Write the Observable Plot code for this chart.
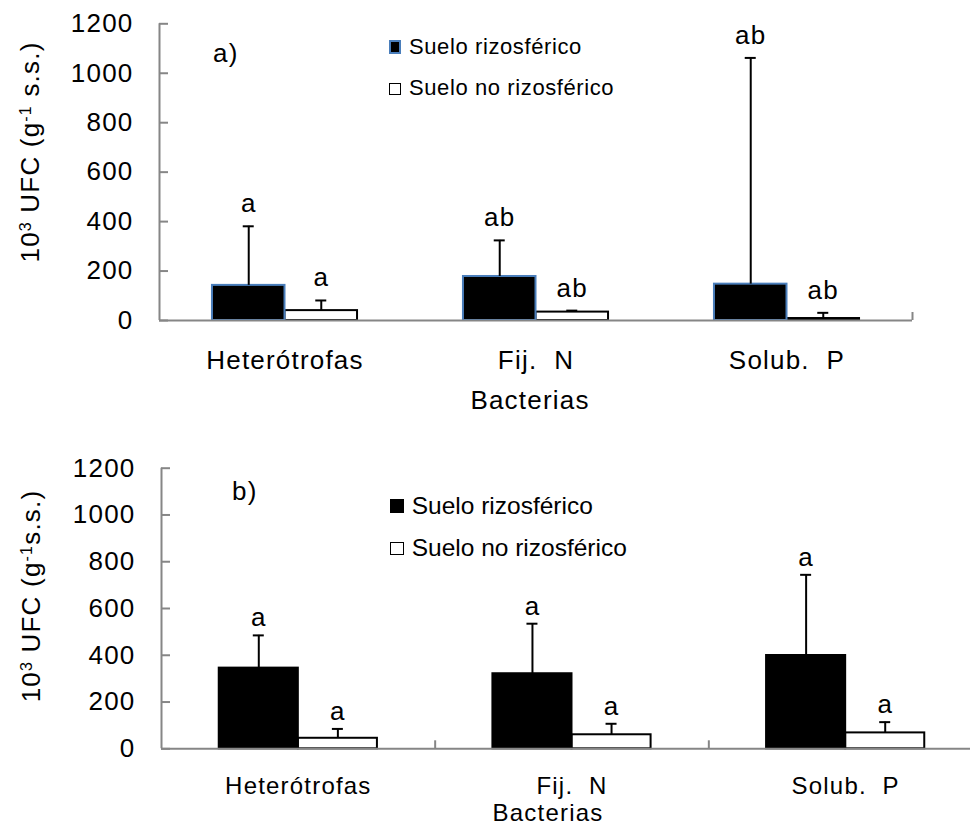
<!DOCTYPE html>
<html>
<head>
<meta charset="utf-8">
<script src="https://cdn.jsdelivr.net/npm/d3@7"></script>
<script src="https://cdn.jsdelivr.net/npm/@observablehq/plot@0.6"></script>
<style>
  body { margin: 0; background: #fff; font-family: "Liberation Sans", Arial, sans-serif; }
  #wrap { position: relative; width: 970px; height: 827px; overflow: hidden; }
  #wrap svg { display: block; }
  .leg { position: absolute; white-space: pre; line-height: 1; color: #000; }
  .sw { position: absolute; box-sizing: border-box; }
</style>
</head>
<body>
<div id="wrap"></div>
<script>
// Bacterial groups and soil types
const categories = ["Heterótrofas", "Fij.\u00a0 N", "Solub.\u00a0 P"];
const series = ["Suelo rizosférico", "Suelo no rizosférico"];
const yTicks = [0, 200, 400, 600, 800, 1000, 1200];

// Panel a) — means and standard deviations (10^3 UFC g-1 s.s.)
const aRizo = [142, 178, 147];
const aRizoErr = [239, 146, 915];
const aNoRizo = [40, 34, 8];
const aNoRizoErr = [41, 6, 23];
const aRizoLetters = ["a", "ab", "ab"];
const aNoRizoLetters = ["a", "ab", "ab"];

// Panel b)
const bRizo = [345, 321, 399];
const bRizoErr = [140, 214, 345];
const bNoRizo = [45, 60, 68];
const bNoRizoErr = [40, 47, 46];
const bRizoLetters = ["a", "a", "a"];
const bNoRizoLetters = ["a", "a", "a"];

const FONT = "'Liberation Sans', Arial, sans-serif";
const AXIS = "#868686";
const barW = 0.289; // bar width as a fraction of a category slot

function rows(means, errs, letters, s) {
  return categories.map((c, i) => ({cat: c, i, series: s, value: means[i], top: means[i] + errs[i], letter: letters[i]}));
}
const left = d => d.series === series[0] ? d.i + 0.5 - barW : d.i + 0.5;
const right = d => left(d) + barW;
const mid = d => left(d) + barW / 2;

function panel(rizoRows, noRows, cfg) {
  const frameW = cfg.frameRight - cfg.marginLeft;
  const frameH = cfg.height - cfg.marginTop - cfg.marginBottom;
  const all = [...rizoRows, ...noRows];
  return Plot.plot({
    width: 970,
    height: cfg.height,
    marginLeft: cfg.marginLeft,
    marginRight: cfg.marginRight,
    marginTop: cfg.marginTop,
    marginBottom: cfg.marginBottom,
    style: {fontFamily: FONT, fontSize: "26px", letterSpacing: "1.2px", color: "#000", background: "#fff", overflow: "visible"},
    x: {domain: [0, 3], range: cfg.xRange},
    y: {domain: [0, 1200], ticks: yTicks, tickFormat: d => String(d), tickSize: 0, tickPadding: 26, label: null},
    marks: [
      // bars: open bars first so the filled bars' outline stays on top
      Plot.rect(noRows, {x1: left, x2: right, y1: () => 0, y2: "value", fill: "#fff", stroke: "#000", strokeWidth: 2}),
      Plot.rect(rizoRows, {x1: left, x2: right, y1: () => 0, y2: "value", fill: "#000", stroke: cfg.barStroke, strokeWidth: 2}),
      // axes
      Plot.axisX({ticks: [0.5, 1.5, 2.5], tickFormat: t => categories[Math.floor(t)], tickSize: 0, tickPadding: cfg.xPad, fontSize: cfg.catSize, label: null}),
      Plot.ruleY([0], {stroke: AXIS, strokeWidth: 2}),
      Plot.ruleX([0], {stroke: AXIS, strokeWidth: 2}),
      Plot.tickY(yTicks, {y: d => d, stroke: AXIS, strokeWidth: 2, insetRight: frameW - 9}),
      Plot.tickX(cfg.xTicks, {x: d => d, stroke: AXIS, strokeWidth: 2, insetTop: frameH - 8}),
      // positive error bars
      Plot.ruleX(all, {x: mid, y1: "value", y2: "top", stroke: "#000", strokeWidth: 2}),
      Plot.ruleY(all, {y: "top", x1: mid, x2: mid, insetLeft: -5.5, insetRight: -5.5, stroke: "#000", strokeWidth: 2}),
      // significance letters
      Plot.text(all, {x: mid, y: "top", text: "letter", lineAnchor: "bottom", dy: cfg.letterDy, fill: "#000"}),
      // x-axis title
      Plot.text(["Bacterias"], {text: d => d, frameAnchor: "bottom", lineAnchor: "top", fontSize: cfg.catSize, dx: cfg.titleDx, dy: cfg.titleDy, fill: "#000"})
    ]
  });
}

function yTitle(svg, x, y, spaced) {
  const t = d3.select(svg).append("text")
    .attr("transform", `translate(${x},${y}) rotate(-90)`)
    .attr("text-anchor", "middle")
    .attr("fill", "#000")
    .style("font-size", "26px")
    .style("letter-spacing", "1.2px")
    .style("white-space", "pre");
  t.append("tspan").text("10");
  t.append("tspan").attr("baseline-shift", "super").style("font-size", "16px").text("3");
  t.append("tspan").text(" UFC (g");
  t.append("tspan").attr("baseline-shift", "super").style("font-size", "16px").text("-1");
  t.append("tspan").text(spaced ? " s.s.)" : "s.s.)");
}

const wrap = document.getElementById("wrap");

const svgA = panel(
  rows(aRizo, aRizoErr, aRizoLetters, series[0]),
  rows(aNoRizo, aNoRizoErr, aNoRizoLetters, series[1]),
  {height: 425, marginLeft: 159, marginRight: 58, frameRight: 912, marginTop: 23.3, marginBottom: 105,
   xRange: undefined, xPad: 30, catSize: 26, xTicks: [3], barStroke: "#4a7ebb", letterDy: -14, titleDx: -6, titleDy: 70}
);
yTitle(svgA, 39, 152, true);
wrap.appendChild(svgA);

const svgB = panel(
  rows(bRizo, bRizoErr, bRizoLetters, series[0]),
  rows(bNoRizo, bNoRizoErr, bNoRizoLetters, series[1]),
  {height: 402, marginLeft: 161, marginRight: 0, frameRight: 970, marginTop: 42.7, marginBottom: 78.7,
   xRange: [161, 982], xPad: 28, catSize: 24, xTicks: [1, 2], barStroke: "#000", letterDy: -9, titleDx: -18, titleDy: 55}
);
yTitle(svgB, 40, 171, false);
wrap.appendChild(svgB);

// Legends and panel tags
function addText(txt, x, top, size, spacing) {
  const d = document.createElement("div");
  d.className = "leg";
  d.textContent = txt;
  Object.assign(d.style, {left: x + "px", top: top + "px", fontSize: size + "px", letterSpacing: spacing + "px"});
  wrap.appendChild(d);
}
function addSwatch(x, y, w, h, fill, border) {
  const d = document.createElement("div");
  d.className = "sw";
  Object.assign(d.style, {left: x + "px", top: y + "px", width: w + "px", height: h + "px", background: fill, border: border});
  wrap.appendChild(d);
}

addText("a)", 213, 39.5, 26, 1.2);
addSwatch(389, 39.5, 12, 14, "#000", "2px solid #4a7ebb");
addText(series[0], 409, 36.4, 22, 0.6);
addSwatch(389, 82.7, 12, 12, "#fff", "1.5px solid #000");
addText(series[1], 409, 77, 22, 0.6);

addText("b)", 232, 478, 26, 1.2);
addSwatch(389.5, 499.3, 14, 13.5, "#000", "none");
addText(series[0], 411.7, 494.3, 24.5, 0);
addSwatch(389.5, 541.7, 14, 13.5, "#fff", "1.5px solid #000");
addText(series[1], 411.7, 536, 24.5, 0);
</script>
</body>
</html>
